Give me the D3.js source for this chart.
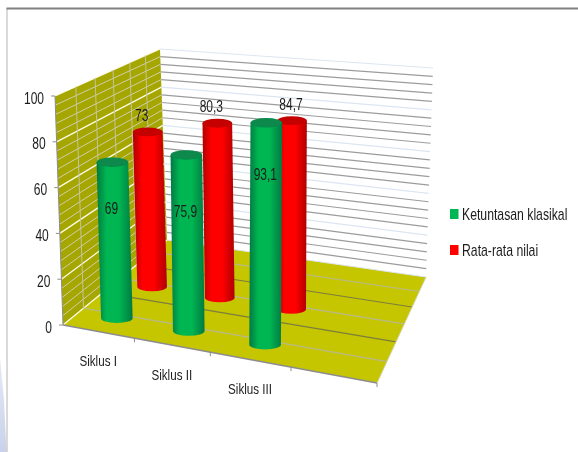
<!DOCTYPE html>
<meta charset="utf-8">
<style>
body { margin: 0; background: #fff; overflow: hidden; }
svg { display: block; }
text { font-family: "Liberation Sans", sans-serif; fill: #1c1c1c; }
.val { font-size: 16px; text-anchor: middle; }
.tick { font-size: 16px; text-anchor: end; }
.cat { font-size: 15.5px; text-anchor: middle; }
.leg { font-size: 16px; }
</style>
<svg width="578" height="452"></svg>

<script src="https://d3js.org/d3.v7.min.js"></script>
<script>
  // data
  var categories = ["Siklus I", "Siklus II", "Siklus III", ""];
  var seriesNames = ["Ketuntasan klasikal", "Rata-rata nilai"];
  var ketuntasan = [69, 75.9, 93.1];
  var rataRata = [73, 80.3, 84.7];
  var yTicks = [0, 20, 40, 60, 80, 100];

  var colors = {
    green: { mid: "#00b652", edge: "#067a42", top: "#07894c" },
    red: { mid: "#ff0000", edge: "#b00000", top: "#c40000" }
  };

  // label nudges, px from the bar top
  var greenLabelDrop = [46, 56, 52];
  var redLabelRise = [16, 17, 16];
  var redLabelLeft = [6, 6, 1];

  var svg = d3.select("svg");
  var defs = svg.append("defs");

  // corners of the 3d box as they land on the picture
  // order: front-left, front-right, back-right, back-left
  var floorQuad = [[63, 325], [377, 383], [426, 277], [167, 240]];
  var wallQuad = [[55, 96], [382, 133], [433, 68], [160, 49]];
  // top plane the bars reach, nudged a bit from the wall corners
  var barQuad = [[55, 96], [388, 128], [433, 68], [160, 49]];

  function homography(q) {
    var dx1 = q[1][0] - q[2][0], dx2 = q[3][0] - q[2][0], sx = q[0][0] - q[1][0] + q[2][0] - q[3][0];
    var dy1 = q[1][1] - q[2][1], dy2 = q[3][1] - q[2][1], sy = q[0][1] - q[1][1] + q[2][1] - q[3][1];
    var den = dx1 * dy2 - dx2 * dy1;
    var g = (sx * dy2 - dx2 * sy) / den, h = (dx1 * sy - sx * dy1) / den;
    var a = q[1][0] - q[0][0] + g * q[1][0], b = q[3][0] - q[0][0] + h * q[3][0];
    var d = q[1][1] - q[0][1] + g * q[1][1], e = q[3][1] - q[0][1] + h * q[3][1];
    return function(u, w) {
      var n = g * u + h * w + 1;
      return [(a * u + b * w + q[0][0]) / n, (d * u + e * w + q[0][1]) / n];
    };
  }
  var floorH = homography(floorQuad), wallH = homography(wallQuad), barH = homography(barQuad);

  // scales, all three run in box units 0..1
  var x = d3.scaleBand().domain(d3.range(categories.length)).range([0, 1]);
  var xBars = d3.scaleBand().domain(d3.range(categories.length)).range([0.011, 1.011]);
  var z = d3.scaleBand().domain(d3.range(3)).range([-0.035, 0.965]);
  var y = d3.scaleLinear().domain([0, 100]).range([0, 1]);

  function lift(topH, u, v, w) {
    var a = floorH(u, w), b = topH(u, w), t = y(v);
    return [a[0] + (b[0] - a[0]) * t, a[1] + (b[1] - a[1]) * t];
  }
  function P(u, v, w) { return lift(barH, u, v, w); }
  function W(u, v, w) { return lift(wallH, u, v, w); }

  function line3(p, q) {
    return "M" + p[0] + "," + p[1] + "L" + q[0] + "," + q[1];
  }
  function poly(pts) {
    return pts.map(function(p) { return p.join(","); }).join(" ");
  }
  // no narrow font here, so squeeze the glyphs
  function squeeze(sel, f) {
    sel.attr("lengthAdjust", "spacingAndGlyphs")
      .attr("textLength", sel.node().getComputedTextLength() * f);
    return sel;
  }

  defs.append("filter").attr("id", "soft")
    .append("feGaussianBlur").attr("stdDeviation", 0.35);
  Object.keys(colors).forEach(function(k) {
    var g = defs.append("linearGradient").attr("id", "grad-" + k);
    g.append("stop").attr("offset", "0%").attr("stop-color", colors[k].edge);
    g.append("stop").attr("offset", "28%").attr("stop-color", colors[k].mid);
    g.append("stop").attr("offset", "62%").attr("stop-color", colors[k].mid);
    g.append("stop").attr("offset", "100%").attr("stop-color", colors[k].edge);
  });

  // slide background bits
  var side = defs.append("linearGradient").attr("id", "side").attr("x1", 0).attr("x2", 0).attr("y1", 0).attr("y2", 1);
  side.append("stop").attr("offset", "0%").attr("stop-color", "#e6eaf6");
  side.append("stop").attr("offset", "100%").attr("stop-color", "#c9d2ea");
  svg.append("polygon").attr("points", "0,358 4,400 6.5,452 0,452").attr("fill", "url(#side)");
  svg.append("path").attr("d", "M7,8V452").attr("stroke", "#b4b4b4").attr("stroke-width", 1).attr("fill", "none");
  svg.append("path").attr("d", "M6.5,8.5H578").attr("stroke", "#808080").attr("stroke-width", 2).attr("fill", "none");

  var root = svg.append("g").attr("filter", "url(#soft)");

  // walls and floor
  root.append("polygon").attr("fill", "#a6a600")
    .attr("points", poly([W(0, 0, 0), W(0, 100, 0), W(0, 100, 1), W(0, 0, 1)]));
  root.append("polygon").attr("fill", "#c6c600")
    .attr("points", poly([W(0, 0, 0), W(1, 0, 0), W(1, 0, 1), W(0, 0, 1)]));

  // wall gridlines, minor every 4, major every 20
  d3.range(0, 101, 4).forEach(function(v) {
    var major = v % 20 === 0;
    root.append("path").attr("d", line3(W(0, v, 0), W(0, v, 1)))
      .attr("stroke", major ? "#fbfbe8" : "#cfcfae").attr("stroke-width", major ? 1.3 : 1).attr("fill", "none");
    root.append("path").attr("d", line3(W(0, v, 1), W(1, v, 1)))
      .attr("stroke", major ? "#dbe6f2" : "#9c9c9c").attr("stroke-width", 1.2).attr("fill", "none");
  });

  // depth gridlines on side wall and floor
  d3.range(1, 6).forEach(function(k) {
    var w = k / 6;
    root.append("path").attr("d", line3(W(0, 0, w), W(0, 100, w)))
      .attr("stroke", "#c4c4a4").attr("stroke-width", 1).attr("fill", "none");
    root.append("path").attr("d", line3(W(0, 0, w), W(1, 0, w)))
      .attr("stroke", k % 2 ? "#b9b98c" : "#7d7d3c").attr("stroke-width", 1.2).attr("fill", "none");
  });

  // axes
  var axisColor = "#8c8c8c";
  root.append("path").attr("d", line3(W(0, 0, 0), W(0, 100, 0))).attr("stroke", axisColor).attr("fill", "none");
  root.append("path").attr("d", line3(W(0, 0, 0), W(1, 0, 0))).attr("stroke", axisColor).attr("stroke-width", 1.3).attr("fill", "none");
  root.append("path").attr("d", line3(W(1, 0, 0), W(1, 0, 1))).attr("stroke", "#d0d0a0").attr("fill", "none");

  yTicks.forEach(function(v) {
    var p = W(0, v, 0);
    root.append("path").attr("d", "M" + (p[0] - 4) + "," + p[1] + "H" + p[0]).attr("stroke", axisColor);
    squeeze(root.append("text").attr("class", "tick").attr("x", p[0] - 11).attr("y", p[1] + 2).attr("dy", "0.35em").text(v), 0.75);
  });

  d3.range(1, categories.length + 1).forEach(function(i) {
    var p = W(i / categories.length, 0, 0);
    root.append("path").attr("d", "M" + p[0] + "," + p[1] + "v4").attr("stroke", axisColor);
  });
  categories.forEach(function(c, i) {
    if (!c) return;
    var p = W(x(i) + x.bandwidth() / 2, 0, 0);
    squeeze(root.append("text").attr("class", "cat").attr("x", p[0]).attr("y", p[1] + 29).attr("dy", "0.35em").text(c), 0.75);
  });

  // cylinders, back row first. radius measured mid box so it stays even across
  var rU = 0.052;
  function cylinder(u, w, v, color) {
    var bc = P(u, 0, w), tc = P(u, v, w);
    var a = P(0.5 - rU, 0, w), b = P(0.5 + rU, 0, w);
    var rx = (b[0] - a[0]) / 2, ry = rx * 0.3;
    var g = root.append("g");
    g.append("path").attr("fill", "url(#grad-" + color + ")")
      .attr("d", "M" + (tc[0] - rx) + "," + tc[1] +
        "L" + (bc[0] - rx) + "," + bc[1] +
        "A" + rx + "," + ry + " 0 0 0 " + (bc[0] + rx) + "," + bc[1] +
        "L" + (tc[0] + rx) + "," + tc[1] + "Z");
    g.append("ellipse").attr("cx", tc[0]).attr("cy", tc[1]).attr("rx", rx).attr("ry", ry)
      .attr("fill", colors[color].top);
    return { top: tc, base: bc };
  }

  var zc = function(i) { return z(i) + z.bandwidth() / 2; };
  var uc = function(i) { return xBars(i) + xBars.bandwidth() / 2; };

  var redBars = rataRata.map(function(v, i) { return cylinder(uc(i), zc(1), v, "red"); });
  var greenBars = ketuntasan.map(function(v, i) { return cylinder(uc(i), zc(0), v, "green"); });

  function fmt(v) { return String(v).replace(".", ","); }
  rataRata.forEach(function(v, i) {
    var p = redBars[i].top;
    squeeze(root.append("text").attr("class", "val").attr("x", p[0] - redLabelLeft[i]).attr("y", p[1] - redLabelRise[i]).attr("dy", "0.35em").text(fmt(v)), 0.75);
  });
  ketuntasan.forEach(function(v, i) {
    var p = greenBars[i].top;
    squeeze(root.append("text").attr("class", "val").attr("x", p[0] - 1).attr("y", p[1] + greenLabelDrop[i]).attr("dy", "0.35em").text(fmt(v)), 0.75);
  });

  // legend
  var legend = root.append("g").attr("transform", "translate(450,214)");
  seriesNames.forEach(function(n, i) {
    var row = legend.append("g").attr("transform", "translate(0," + i * 36 + ")");
    row.append("rect").attr("y", -5).attr("width", 8.5).attr("height", 10).attr("fill", i ? colors.red.mid : colors.green.mid);
    row.append("text").attr("class", "leg").attr("transform", "translate(12,0) scale(0.765,1)").attr("dy", "0.35em").text(n);
  });
</script>
